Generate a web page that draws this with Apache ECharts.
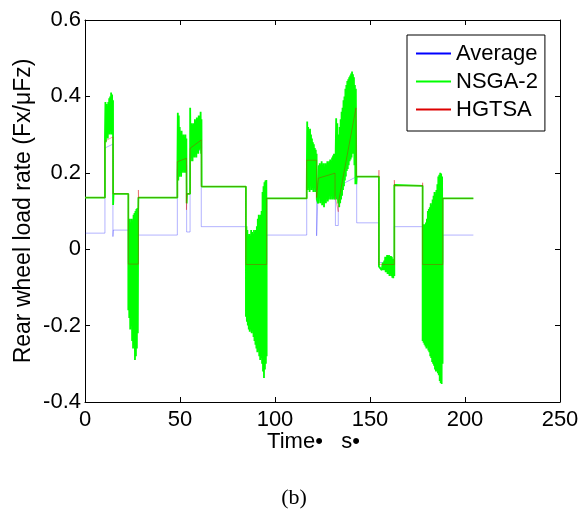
<!DOCTYPE html>
<html><head><meta charset="utf-8">
<script src="https://cdn.jsdelivr.net/npm/echarts@6/dist/echarts.min.js"></script>
<style>html,body{margin:0;padding:0;background:#fff}#c{width:582px;height:511px}</style>
</head><body><div id="c"></div>
<script>
const seriesNames = ['Average', 'NSGA-2', 'HGTSA'];
const xTicks = [0, 50, 100, 150, 200, 250];
const yTicks = [-0.4, -0.2, 0, 0.2, 0.4, 0.6];
const xTitle = 'Time\u2022   s\u2022';
const yTitle = 'Rear wheel load rate (Fx/\u03BCFz)';
const caption = '(b)';

// Average (blue) [time s, value]
const average = [
[0,0.042],[10.5,0.042],[10.5,0.265],[14.7,0.275],[14.7,0.033],[14.9,0.05],[22.8,0.05],[22.8,-0.035],[28.1,-0.035],[28.1,0.037],
[48.6,0.037],[48.6,0.21],[53.5,0.22],[53.5,0.045],[55.3,0.045],[55.3,0.25],[61.2,0.26],[61.2,0.059],[84.7,0.059],[84.7,-0.035],
[95.6,-0.035],[95.6,0.037],[116.7,0.037],[116.7,0.2],[121.9,0.21],[121.9,0.035],[122.8,0.035],[122.8,0.17],[131.8,0.18],[131.8,0.062],
[133.3,0.062],[133.3,0.165],[143,0.19],[143,0.069],[154.7,0.069],[154.7,-0.035],[162.8,-0.035],[162.8,0.059],[177.7,0.059],[177.7,-0.035],
[188.3,-0.035],[188.3,0.037],[204.4,0.037]
];

// NSGA-2 (green) [time s, value]
const nsga2 = [
[0,0.135],[10.5,0.135],
[10.5,0.29],[10.75,0.385],[11.0,0.28],[11.25,0.38],[11.5,0.30],[11.75,0.375],[12.0,0.29],[12.25,0.385],[12.5,0.31],[12.75,0.395],[13.0,0.30],[13.25,0.40],[13.5,0.32],[13.75,0.41],[14.0,0.30],[14.25,0.405],[14.5,0.31],[14.75,0.39],
[14.8,0.116],[15.0,0.145],[22.8,0.145],
[22.8,-0.16],[23.05,0.075],[23.3,-0.18],[23.55,0.08],[23.8,-0.21],[24.05,0.07],[24.3,-0.2],[24.55,0.08],[24.8,-0.24],[25.05,0.075],[25.3,-0.26],[25.55,0.09],[25.8,-0.25],[26.05,0.095],[26.3,-0.29],[26.55,0.1],[26.8,-0.28],[27.05,0.105],[27.3,-0.26],[27.55,0.108],[27.8,-0.22],[28.0,0.1],
[28.1,0.135],[48.6,0.135],
[48.6,0.19],[48.85,0.357],[49.1,0.18],[49.35,0.35],[49.6,0.19],[49.85,0.32],[50.1,0.2],[50.35,0.3],[50.6,0.19],[50.85,0.31],[51.1,0.21],[51.35,0.29],[51.6,0.2],[51.85,0.3],[52.1,0.21],[52.35,0.29],[52.6,0.2],[52.85,0.3],[53.1,0.21],[53.35,0.29],
[53.5,0.12],[53.7,0.145],[55.3,0.145],
[55.35,0.37],[55.6,0.23],[55.85,0.33],[56.1,0.24],[56.35,0.325],[56.6,0.23],[56.85,0.33],[57.1,0.25],[57.35,0.32],[57.6,0.24],[57.85,0.34],[58.1,0.25],[58.35,0.33],[58.6,0.24],[58.85,0.345],[59.1,0.26],[59.35,0.34],[59.6,0.25],[59.85,0.35],[60.1,0.26],[60.35,0.345],[60.6,0.27],[60.85,0.36],[61.1,0.25],[61.3,0.34],
[61.4,0.164],[84.7,0.164],
[84.7,-0.177],[84.95,0.06],[85.2,-0.19],[85.45,0.05],[85.7,-0.2],[85.95,0.035],[86.2,-0.21],[86.45,0.04],[86.7,-0.216],[86.95,0.035],[87.2,-0.21],[87.45,0.05],[87.7,-0.22],[87.95,0.045],[88.2,-0.215],[88.45,0.04],[88.7,-0.23],[88.95,0.05],[89.2,-0.24],[89.45,0.045],[89.7,-0.25],[89.95,0.05],[90.2,-0.26],[90.45,0.06],[90.7,-0.27],[90.95,0.08],[91.2,-0.265],[91.45,0.09],[91.7,-0.28],[91.95,0.085],[92.2,-0.29],[92.45,0.09],[92.7,-0.285],[92.95,0.1],[93.2,-0.3],[93.45,0.15],[93.7,-0.32],[93.95,0.165],[94.2,-0.337],[94.45,0.175],[94.7,-0.315],[94.95,0.18],[95.2,-0.3],[95.45,0.181],[95.6,-0.28],
[95.6,0.133],[116.7,0.133],
[116.7,0.16],[116.95,0.334],[117.2,0.155],[117.45,0.32],[117.7,0.16],[117.95,0.31],[118.2,0.15],[118.45,0.315],[118.7,0.165],[118.95,0.3],[119.2,0.155],[119.45,0.29],[119.7,0.16],[119.95,0.28],[120.2,0.15],[120.45,0.275],[120.7,0.16],[120.95,0.265],[121.2,0.15],[121.45,0.26],[121.7,0.155],[121.9,0.25],
[122.0,0.13],[122.4,0.135],[122.7,0.12],
[122.8,0.13],[123.05,0.22],[123.3,0.14],[123.55,0.225],[123.8,0.12],[124.05,0.22],[124.3,0.13],[124.55,0.23],[124.8,0.115],[125.05,0.22],[125.3,0.14],[125.55,0.225],[125.8,0.11],[126.05,0.215],[126.3,0.13],[126.55,0.225],[126.8,0.12],[127.05,0.22],[127.3,0.14],[127.55,0.23],[127.8,0.125],[128.05,0.225],[128.3,0.13],[128.55,0.23],[128.8,0.14],[129.05,0.235],[129.3,0.13],[129.55,0.23],[129.8,0.14],[130.05,0.24],[130.3,0.13],[130.55,0.245],[130.8,0.135],[131.05,0.25],[131.3,0.13],
[131.6,0.145],[132.1,0.14],[132.2,0.343],[132.5,0.13],[132.8,0.33],[133.0,0.14],
[133.3,0.12],[133.55,0.3],[133.8,0.11],[134.05,0.32],[134.3,0.12],[134.55,0.34],[134.8,0.13],[135.05,0.36],[135.3,0.14],[135.55,0.37],[135.8,0.155],[136.05,0.39],[136.3,0.165],[136.55,0.4],[136.8,0.18],[137.05,0.42],[137.3,0.19],[137.55,0.43],[137.8,0.205],[138.05,0.44],[138.3,0.21],[138.55,0.445],[138.8,0.22],[139.05,0.45],[139.3,0.23],[139.55,0.455],[139.8,0.235],[140.05,0.46],[140.3,0.24],[140.55,0.465],[140.8,0.25],[141.05,0.458],[141.3,0.25],[141.55,0.45],[141.8,0.22],[142.05,0.43],[142.3,0.17],[142.55,0.42],[142.8,0.17],
[143.0,0.19],[154.7,0.19],
[154.7,-0.045],[155.2,-0.05],[155.7,-0.04],[156.2,-0.055],[156.7,-0.035],[157.2,-0.055],[157.5,-0.03],[157.75,-0.055],[158.0,-0.02],[158.25,-0.06],[158.5,-0.025],[158.75,-0.06],[159.0,-0.015],[159.25,-0.065],[159.5,-0.02],[159.75,-0.065],[160.0,-0.015],[160.25,-0.07],[160.5,-0.02],[160.75,-0.065],[161.0,-0.018],[161.25,-0.07],[161.5,-0.02],[161.75,-0.075],[162.0,-0.025],[162.25,-0.076],[162.5,-0.04],[162.8,-0.07],
[162.8,0.168],[177.7,0.166],
[177.7,-0.24],[177.95,0.06],[178.2,-0.245],[178.45,0.065],[178.7,-0.25],[178.95,0.065],[179.2,-0.255],[179.45,0.07],[179.7,-0.26],[179.95,0.08],[180.2,-0.255],[180.45,0.1],[180.7,-0.265],[180.95,0.105],[181.2,-0.27],[181.45,0.11],[181.7,-0.28],[181.95,0.12],[182.2,-0.285],[182.45,0.115],[182.7,-0.295],[182.95,0.13],[183.2,-0.3],[183.45,0.14],[183.7,-0.305],[183.95,0.15],[184.2,-0.315],[184.45,0.145],[184.7,-0.32],[184.95,0.155],[185.2,-0.32],[185.45,0.17],[185.7,-0.325],[185.95,0.19],[186.2,-0.33],[186.45,0.195],[186.7,-0.345],[186.95,0.2],[187.2,-0.35],[187.45,0.198],[187.7,-0.353],[187.95,0.19],[188.2,-0.3],
[188.3,0.133],[204.4,0.133]
];

// HGTSA (red) [time s, value]
const hgtsa = [
[0,0.135],[10.5,0.135],[10.5,0.283],[14.7,0.294],[14.7,0.145],[22.8,0.145],[22.8,-0.039],[28.1,-0.039],[28.1,0.155],[28.2,0.135],
[48.6,0.135],[48.6,0.229],[53.4,0.238],[53.4,0.103],[53.6,0.145],[55.3,0.145],[55.3,0.264],[61.2,0.286],[61.2,0.164],[84.7,0.164],
[84.7,-0.04],[95.6,-0.04],[95.6,0.133],[116.7,0.133],[116.7,0.233],[121.9,0.233],[121.9,0.135],[122.8,0.135],[122.8,0.186],[131.6,0.199],
[131.6,0.14],[133.3,0.098],[133.3,0.12],[142.6,0.37],[142.8,0.19],[154.7,0.19],[154.7,0.207],[154.7,-0.04],[162.8,-0.04],[162.8,0.181],
[163.0,0.166],[177.7,0.166],[177.7,0.174],[177.7,-0.04],[188.3,-0.04],[188.3,0.133],[204.4,0.133]
];

const FONT = '"Liberation Sans", Arial, Helvetica, sans-serif';
const chart = echarts.init(document.getElementById('c'), null, {renderer: 'canvas'});
const xMin = xTicks[0], xMax = xTicks[xTicks.length - 1], xStep = xTicks[1] - xTicks[0];
const yMin = yTicks[0], yMax = yTicks[yTicks.length - 1], yStep = +(yTicks[1] - yTicks[0]).toFixed(10);
const tickStyle = {show: true, inside: true, length: 5, lineStyle: {color: '#000', width: 1}};
const lineAx = {show: true, onZero: false, lineStyle: {color: '#000', width: 1}};
const fmtY = v => String(+(+v).toFixed(1));
const hideSym = {color: 'rgba(0,0,0,0)', borderWidth: 0, opacity: 0};

chart.setOption({
  animation: false,
  backgroundColor: '#fff',
  grid: {left: 85, right: 22, top: 20, bottom: 109, containLabel: false},
  legend: {
    orient: 'vertical', left: 407, top: 35,
    padding: [7, 7, 10, 8],
    itemWidth: 35, itemHeight: 2, itemGap: 5, itemTextGap: 4,
    borderColor: '#000', borderWidth: 1, backgroundColor: '#fff',
    textStyle: {fontFamily: FONT, fontSize: 22, color: '#000', lineHeight: 23},
    itemStyle: hideSym,
    lineStyle: {opacity: 1},
    data: seriesNames
  },
  xAxis: [
    {type: 'value', min: xMin, max: xMax, interval: xStep, position: 'bottom',
     axisLine: lineAx, axisTick: tickStyle, splitLine: {show: false},
     axisLabel: {fontFamily: FONT, fontSize: 22, color: '#000', margin: 7},
     name: xTitle, nameLocation: 'middle', nameGap: 29, nameMoveOverlap: false,
     nameTextStyle: {fontFamily: FONT, fontSize: 22, color: '#000', padding: [0, 18, 0, 0]}},
    {type: 'value', min: xMin, max: xMax, interval: xStep, position: 'top',
     axisLine: lineAx, axisTick: tickStyle, splitLine: {show: false}, axisLabel: {show: false}}
  ],
  yAxis: [
    {type: 'value', min: yMin, max: yMax, interval: yStep, position: 'left',
     axisLine: lineAx, axisTick: tickStyle, splitLine: {show: false},
     axisLabel: {fontFamily: FONT, fontSize: 22, color: '#000', margin: 4, formatter: fmtY},
     name: yTitle, nameLocation: 'middle', nameGap: 50, nameRotate: 90, nameMoveOverlap: false,
     nameTextStyle: {fontFamily: FONT, fontSize: 23, color: '#000'}},
    {type: 'value', min: yMin, max: yMax, interval: yStep, position: 'right',
     axisLine: lineAx, axisTick: tickStyle, splitLine: {show: false}, axisLabel: {show: false}}
  ],
  graphic: [{type: 'text', x: 294, y: 498,
    style: {text: caption, font: '22px "Liberation Serif", "Times New Roman", serif', fill: '#000', align: 'center', verticalAlign: 'middle'}}],
  series: [
    {name: seriesNames[0], type: 'line', data: average, symbol: 'none', z: 2,
     lineStyle: {color: '#0000ff', opacity: 0.3, width: 1}, itemStyle: {color: '#0000ff'}},
    {name: seriesNames[1], type: 'line', data: nsga2, symbol: 'none', z: 3,
     lineStyle: {color: '#00ff00', width: 1.8}, itemStyle: {color: '#00ff00'}},
    {name: seriesNames[2], type: 'line', data: hgtsa, symbol: 'none', z: 4,
     lineStyle: {color: '#dd0000', opacity: 0.35, width: 1}, itemStyle: {color: '#dd0000'}}
  ]
});
</script></body></html>
